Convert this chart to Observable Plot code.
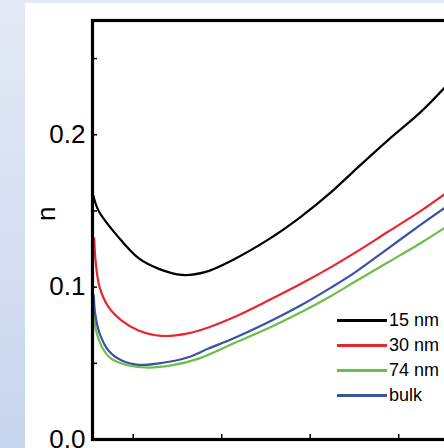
<!DOCTYPE html>
<html>
<head>
<meta charset="utf-8">
<script src="https://cdn.jsdelivr.net/npm/d3@7"></script>
<script src="https://cdn.jsdelivr.net/npm/@observablehq/plot@0.6"></script>
<style>
  html, body { margin: 0; padding: 0; width: 444px; height: 448px; overflow: hidden; }
  body { background: linear-gradient(to bottom, #e4eaf5, #c7d5ee); position: relative; font-family: "Liberation Sans", Arial, sans-serif; }
  #panel { position: absolute; left: 25px; top: 3px; right: 0; bottom: 0; background: #fff; }
  #chart { position: absolute; left: 0; top: 0; width: 470px; }
  #chart svg { max-width: none !important; width: 470px; height: 448px; }
  #legend { position: absolute; left: 337px; top: 308px; font-size: 18px; color: #000; }
  #legend .row { display: flex; align-items: center; height: 25px; }
  #legend .sw { width: 50px; height: 3px; margin-right: 2px; }
</style>
</head>
<body>
<div id="panel"></div>
<div id="chart"></div>
<div id="legend"></div>
<script>
// wavelength-like x positions (arbitrary units; axis labels not visible)
const x15 = [355, 361, 383, 406, 429, 455, 482, 513, 552, 589, 623, 649, 687, 725, 752];
const n15 = [0.160, 0.150, 0.133, 0.119, 0.112, 0.108, 0.110, 0.118, 0.131, 0.146, 0.162, 0.176, 0.196, 0.215, 0.231];

const x30 = [356, 357.5, 362, 372, 387, 406, 432, 462, 485, 513, 552, 589, 623, 649, 687, 725, 752];
const n30 = [0.132, 0.117, 0.100, 0.087, 0.078, 0.0715, 0.068, 0.0696, 0.0735, 0.080, 0.091, 0.102, 0.113, 0.122, 0.136, 0.150, 0.161];

const x74 = [355.5, 358, 365, 375, 395, 417, 443, 474, 513, 552, 589, 623, 649, 687, 725, 752];
const n74 = [0.0833, 0.0715, 0.0604, 0.0531, 0.0486, 0.0472, 0.0486, 0.0531, 0.063, 0.0728, 0.0833, 0.0940, 0.103, 0.1160, 0.129, 0.139];

const xBulk = [355.5, 357, 362, 372, 387, 406, 432, 462, 485, 513, 552, 589, 623, 649, 687, 725, 752];
const nBulk = [0.0945, 0.0827, 0.0696, 0.0584, 0.0518, 0.0490, 0.0502, 0.0540, 0.0597, 0.0663, 0.0768, 0.0879, 0.0995, 0.109, 0.125, 0.141, 0.152];

const seriesNames = ["15 nm", "30 nm", "74 nm", "bulk"];
const seriesColors = ["#000000", "#e8262f", "#6cbf45", "#3c52a4"];
const yTickLabels = [0.0, 0.1, 0.2];
const yTicks = [0, 0.05, 0.1, 0.15, 0.2, 0.25];
const xTicks = [400, 500, 600, 700];

const toRows = (xs, ys, name) => xs.map((x, i) => ({x, n: ys[i], s: name}));
const allX = [x15, x30, x74, xBulk];
const allY = [n15, n30, n74, nBulk];
const rows = seriesNames.flatMap((s, k) => toRows(allX[k], allY[k], s));

const chart = Plot.plot({
  width: 470,
  height: 448,
  marginLeft: 92,
  marginRight: 24,
  marginTop: 20,
  marginBottom: 9,
  style: {background: "transparent", fontFamily: "Liberation Sans, Arial, sans-serif", maxWidth: "none"},
  x: {domain: [354, 754]},
  y: {domain: [0, 0.275]},
  color: {domain: seriesNames, range: seriesColors},
  marks: [
    Plot.line(rows, {x: "x", y: "n", z: "s", stroke: "s", strokeWidth: 2.2, curve: "catmull-rom"}),
    Plot.axisY({ticks: yTicks, tickSize: -5, tickFormat: () => "", strokeWidth: 1.5, label: null}),
    Plot.axisY({ticks: yTickLabels, tickSize: 0, tickPadding: 7, tickFormat: ".1f", fontSize: 26, label: null}),
    Plot.axisX({ticks: xTicks, tickSize: -5, tickFormat: () => "", strokeWidth: 1.5, label: null}),
    Plot.text(["n"], {frameAnchor: "left", dx: -46, dy: -9, rotate: -90, fontSize: 26}),
    Plot.frame({stroke: "#000", strokeWidth: 3.2})
  ]
});
document.getElementById("chart").appendChild(chart);

const legend = document.getElementById("legend");
seriesNames.forEach((name, i) => {
  const row = document.createElement("div");
  row.className = "row";
  const sw = document.createElement("div");
  sw.className = "sw";
  sw.style.background = seriesColors[i];
  const t = document.createElement("span");
  t.textContent = name;
  row.appendChild(sw);
  row.appendChild(t);
  legend.appendChild(row);
});
</script>
</body>
</html>
